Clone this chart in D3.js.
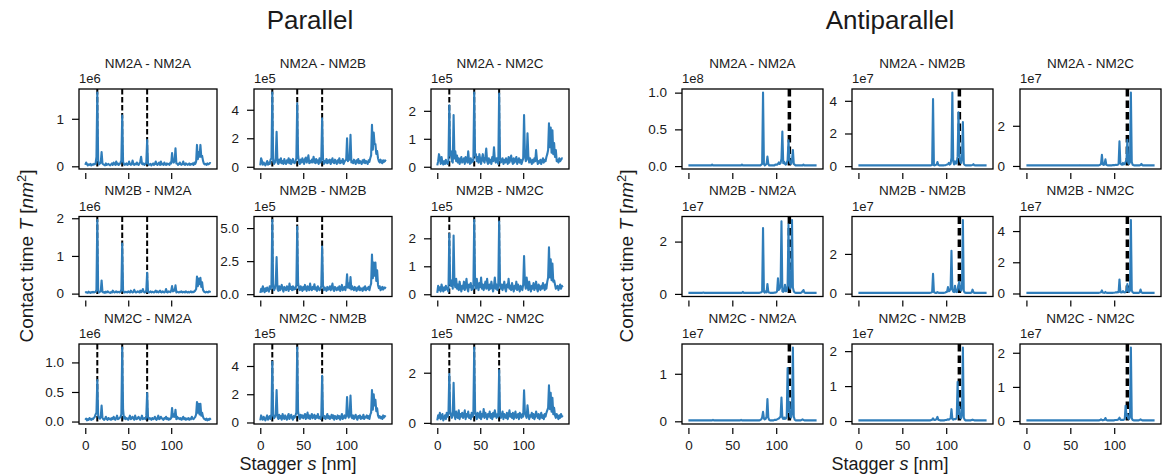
<!DOCTYPE html>
<html lang="en">
<head>
<meta charset="utf-8">
<title>Contact time vs stagger</title>
<script src="https://d3js.org/d3.v7.min.js"></script>
<style>
  body { margin: 0; background: #fff; }
  svg text { font-family: "Liberation Sans", Arial, sans-serif; fill: #1a1a1a; }
</style>
</head>
<body>
<div id="chart"></div>
<script>
// stagger grid, nm
var stagger = d3.range(0, 147);
var xTicks = [0, 50, 100];

var pairTitles = ["NM2A - NM2A", "NM2A - NM2B", "NM2A - NM2C",
                  "NM2B - NM2A", "NM2B - NM2B", "NM2B - NM2C",
                  "NM2C - NM2A", "NM2C - NM2B", "NM2C - NM2C"];

// parallel contact time, in hundredths of each panel's offset (1eN)
var parAA = [3,8,5,2,4,3,5,2,4,3, 5,4,6,20,155,12,4,6,8,30, 6,4,3,2,6,3,4,5,3,2, 4,6,3,8,5,3,10,4,6,3,
  5,8,12,107,10,4,3,5,6,3, 4,10,5,3,4,12,6,3,5,4, 8,4,3,6,10,20,5,4,6,3, 5,8,55,6,3,4,5,2,4,6,
  3,5,10,4,3,6,8,3,10,4, 5,3,8,4,3,6,4,5,3,8, 6,28,10,8,12,38,6,6,3,5, 8,4,3,5,10,4,3,6,5,3,
  4,6,3,5,4,6,3,8,5,10, 45,15,30,20,45,20,22,12,6,4, 5,3,6,4,5,7,6];
var parAB = [10,60,40,15,30,20,10,25,40,15, 30,20,50,60,520,40,20,30,60,245, 30,20,50,30,60,25,40,20,55,30, 20,45,30,60,25,50,20,35,55,30,
  25,40,60,445,85,30,20,50,30,60, 40,20,55,65,30,45,80,25,40,30, 50,30,70,40,25,55,30,45,20,60, 30,55,340,60,20,40,30,55,25,45,
  30,50,20,40,60,30,25,50,35,20, 45,30,60,25,40,30,55,20,35,45, 50,200,40,60,50,225,30,40,25,50, 35,20,45,30,55,25,40,30,20,45,
  30,50,25,40,30,20,45,35,60,80, 295,120,240,160,160,90,110,60,40,30, 50,30,25,45,35,40,50];
var parAC = [5,20,45,30,10,35,15,8,20,10, 25,15,10,20,220,40,55,20,15,185, 30,55,20,40,15,30,10,25,35,15, 20,30,10,35,25,15,55,20,10,30,
  15,25,20,265,40,45,20,35,15,45, 25,10,30,45,20,15,35,65,20,10, 30,15,25,10,35,20,70,25,15,30, 20,10,262,35,15,20,30,10,25,15,
  30,20,10,35,15,25,40,20,10,30, 15,25,35,10,20,30,15,25,10,20, 30,185,45,20,25,120,40,15,30,20, 10,25,15,30,20,60,25,10,20,15,
  25,10,20,30,15,25,20,35,45,60, 155,70,140,50,130,45,85,35,60,20, 25,15,30,20,25,30,30];
var parBA = [2,4,3,2,5,3,2,4,3,5, 3,4,5,10,195,8,3,5,6,35, 5,3,4,2,5,3,6,4,3,2, 4,3,8,5,3,4,6,3,5,4,
  3,6,10,133,8,4,3,5,4,3, 6,4,3,8,5,3,4,10,5,3, 4,6,5,3,8,4,6,12,5,3, 4,8,55,5,3,4,6,3,5,4,
  3,5,8,4,6,3,5,8,4,3, 6,4,3,5,12,4,3,6,5,4, 8,20,6,10,8,22,3,5,4,3, 5,4,6,3,4,5,3,6,4,3,
  5,3,4,6,3,5,4,6,8,12, 45,20,40,25,42,18,30,10,6,4, 3,5,4,3,6,5,4];
var parBB = [10,40,20,60,30,15,45,25,50,30, 20,60,40,70,560,50,30,45,80,280, 40,25,60,30,50,70,35,20,55,40, 30,60,45,25,80,40,55,30,60,35,
  50,40,70,510,90,40,30,60,45,25, 55,35,70,40,25,60,45,30,80,40, 30,55,40,75,35,50,25,60,40,30, 45,60,360,70,30,50,40,25,55,35,
  40,60,30,50,80,35,25,55,40,30, 50,35,60,25,45,70,30,40,55,30, 60,150,50,80,45,130,35,60,40,30, 55,40,25,50,35,60,30,45,40,25,
  50,35,60,30,45,40,55,30,60,80, 300,120,240,140,240,100,180,70,45,60, 30,40,55,35,50,45,55];
var parBC = [5,30,15,25,10,35,20,10,25,15, 30,20,15,10,215,45,30,50,20,210, 40,25,55,20,35,15,45,25,10,30, 20,45,15,30,55,20,10,35,25,40,
  15,30,20,265,45,20,55,30,15,40, 25,60,20,35,15,30,45,20,55,25, 15,35,20,45,25,10,30,60,20,35, 15,25,260,40,20,35,15,30,45,20,
  10,35,25,55,20,30,15,40,25,10, 30,20,45,15,35,25,10,30,20,15, 35,137,40,20,60,30,15,45,25,10, 30,20,40,15,25,45,20,10,35,25,
  15,30,20,40,25,15,35,20,45,60, 168,60,125,50,110,45,50,35,20,25, 30,15,25,35,20,30,25];
var parCA = [3,5,2,4,3,6,4,3,5,4, 6,8,12,15,70,10,6,5,8,27, 6,4,3,5,8,4,3,6,4,5, 3,6,4,8,5,3,6,10,4,5,
  6,8,12,125,20,5,8,4,6,5, 3,6,10,4,5,8,6,3,10,5, 4,6,8,5,3,6,10,4,5,6, 4,10,48,8,4,6,5,3,6,4,
  5,8,4,3,6,10,4,5,8,6, 4,3,6,5,8,4,6,3,5,4, 6,23,8,12,8,20,4,8,5,6, 4,6,3,5,8,4,6,3,5,4,
  6,3,5,4,8,5,4,6,8,12, 33,15,30,12,30,10,15,8,5,4, 3,5,2,4,3,5,3];
var parCB = [15,50,30,20,40,25,15,35,50,20, 30,45,25,60,430,50,30,40,60,230, 40,25,55,30,45,20,60,35,25,50, 30,20,45,60,25,40,55,30,20,45,
  35,50,70,530,80,40,25,55,35,50, 30,45,60,25,40,70,30,50,25,45, 60,30,40,55,25,45,35,60,30,40, 25,50,330,55,30,45,25,40,60,30,
  45,25,35,55,30,50,20,45,35,25, 50,30,45,20,40,60,25,35,50,30, 45,180,50,35,55,190,40,30,50,25, 40,55,30,20,45,35,50,25,40,30,
  55,25,40,35,50,30,45,25,55,70, 230,90,200,120,160,80,100,50,35,45, 30,40,25,50,35,45,40];
var parCC = [10,30,20,40,15,25,35,10,20,30, 15,40,25,35,195,45,30,20,35,160, 30,15,45,25,20,50,15,35,25,40, 20,30,50,15,35,25,45,20,30,15,
  40,25,35,300,50,25,15,40,30,20, 45,15,35,25,55,20,40,30,15,35, 25,45,20,35,15,40,25,50,30,20, 35,25,210,40,20,30,45,15,35,25,
  20,40,15,30,50,25,35,20,40,15, 30,45,20,25,35,15,40,30,20,35, 25,130,40,30,20,70,35,15,30,25, 40,20,35,15,25,45,30,20,35,15,
  25,40,20,30,15,35,25,40,50,60, 150,55,120,45,100,35,60,30,20,35, 25,15,30,20,35,25,30];

// antiparallel contact time, same units
var antiAA = [1,1,1,1,1,1,1,1,1,1, 1,1,1,1,1,1,1,1,1,1, 1,1,1,1,1,1,1,2,1,1, 1,1,1,1,1,1,1,1,1,1,
  1,1,1,1,1,1,1,1,1,1, 1,1,1,1,1,1,1,1,1,1, 1,2,1,1,1,1,1,1,1,1, 1,1,1,1,1,1,1,1,1,1,
  1,1,1,2,3,100,3,1,2,3, 13,3,1,1,1,1,1,1,1,2, 2,2,3,5,3,4,10,47,4,6, 3,2,4,8,35,10,4,3,8,22,
  3,2,1,1,1,1,1,1,1,1, 1,2,1,1,1,1,1,1,1,1, 1,1,1,1,1,1,1];
var antiAB = [5,5,5,5,5,5,5,5,5,5, 5,5,5,5,5,5,5,5,5,5, 5,5,5,5,5,5,5,6,5,5, 5,5,5,5,5,5,5,5,5,5,
  5,5,5,5,5,5,5,5,5,5, 5,5,5,5,5,5,5,5,5,5, 5,6,5,5,5,5,5,5,5,5, 5,5,5,5,5,5,5,5,5,5,
  5,5,5,6,8,410,6,5,8,10, 25,8,5,5,5,5,5,5,6,6, 8,10,12,20,10,15,50,450,30,10, 30,15,20,60,330,80,30,20,50,270,
  15,8,5,5,5,5,5,5,5,6, 8,12,6,5,5,5,5,5,5,5, 5,5,5,5,5,5,5];
var antiAC = [3,3,3,3,3,3,3,3,3,3, 3,3,3,3,3,3,3,3,3,3, 3,3,3,3,3,3,3,3,3,3, 3,3,3,3,3,3,3,3,3,3,
  3,3,3,3,3,3,3,3,3,3, 3,3,3,3,3,3,3,3,3,3, 3,4,3,3,3,3,3,3,3,3, 3,3,3,3,3,3,3,3,3,3,
  3,3,3,4,6,10,55,8,5,10, 33,6,4,3,3,3,3,3,4,4, 4,5,6,5,6,10,123,15,8,6, 15,8,10,20,30,130,15,10,20,365,
  20,6,4,3,3,3,3,3,3,3, 5,10,4,3,3,3,3,3,3,3, 3,3,3,3,3,3,3];
var antiBA = [4,4,4,4,4,4,4,4,4,4, 4,4,4,4,4,4,4,5,4,4, 4,4,4,4,4,4,4,4,4,4, 4,4,4,4,4,4,4,4,4,4,
  4,4,4,4,4,4,4,4,4,4, 4,4,4,4,4,4,4,4,4,4, 4,4,8,4,4,4,4,4,4,4, 4,4,4,4,4,4,4,4,4,4,
  4,4,5,6,10,252,8,5,10,6, 38,8,5,4,4,4,4,4,5,5, 6,10,60,15,20,30,278,10,8,12, 35,10,12,30,265,40,20,30,282,25,
  10,6,4,4,4,4,4,4,4,6, 10,15,6,4,4,4,4,4,4,4, 4,4,4,4,4,4,4];
var antiBB = [4,4,4,4,4,4,4,4,4,4, 4,4,4,4,4,4,4,4,4,4, 4,4,4,4,4,4,4,4,4,4, 4,4,4,4,4,4,4,4,4,4,
  4,4,4,4,4,4,4,4,4,4, 4,4,4,4,4,4,4,4,4,4, 4,4,4,4,4,4,4,4,4,4, 4,4,4,4,4,4,4,4,4,4,
  4,4,5,6,8,100,8,5,4,4, 8,5,4,4,4,4,4,4,5,6, 8,10,33,12,15,25,216,20,10,8, 40,10,8,20,45,60,20,15,30,370,
  15,6,4,4,4,4,4,4,4,6, 20,8,4,4,4,4,4,4,4,4, 4,4,4,4,4,4,4];
var antiBC = [4,4,4,4,4,4,4,4,4,4, 4,4,4,4,4,4,4,4,4,4, 4,4,4,4,4,4,4,4,4,4, 4,4,4,4,4,4,4,4,4,4,
  4,4,4,4,4,4,4,4,4,4, 4,4,4,4,4,4,4,4,4,4, 4,4,4,4,4,4,4,4,4,4, 4,4,4,4,4,4,4,4,4,4,
  4,4,4,5,6,8,20,6,5,4, 10,5,4,4,4,4,4,4,4,5, 5,6,8,6,10,8,90,10,6,8, 15,8,6,10,20,60,15,10,20,470,
  20,8,4,4,4,4,4,4,4,6, 25,8,4,4,4,4,4,4,4,4, 4,4,4,4,4,4,4];
var antiCA = [2,2,2,2,2,2,2,2,2,2, 2,2,2,2,2,2,2,2,2,2, 2,2,2,2,2,2,2,2,3,2, 2,2,2,2,2,2,2,2,2,2,
  2,2,2,2,2,2,2,2,2,2, 2,2,2,2,2,2,2,2,2,2, 3,2,2,2,2,2,2,2,2,2, 2,2,2,2,2,2,2,2,2,2,
  2,2,3,4,8,20,6,4,5,10, 47,8,3,2,2,2,2,2,3,3, 3,4,5,6,8,10,50,8,5,8, 5,6,10,112,20,40,10,8,20,155,
  10,4,2,2,2,2,2,2,2,3, 4,3,2,2,2,2,2,2,2,2, 2,2,2,2,2,2,2];
var antiCB = [2,2,2,2,2,2,2,2,2,2, 2,2,2,2,2,2,2,2,2,2, 2,2,2,2,2,2,2,2,2,2, 2,2,2,2,2,2,2,2,2,2,
  2,2,2,2,2,2,2,2,2,2, 2,2,2,2,2,2,2,2,2,2, 2,2,2,2,2,2,2,2,2,2, 2,2,2,2,2,2,2,2,2,2,
  2,2,2,3,4,8,4,3,4,6, 12,4,3,2,2,2,2,2,2,3, 3,4,5,4,6,8,34,6,4,6, 5,6,10,112,20,40,10,8,20,210,
  10,4,2,2,2,2,2,2,2,3, 4,3,2,2,2,2,2,2,2,2, 2,2,2,2,2,2,2];
var antiCC = [2,2,2,2,2,2,2,2,2,2, 2,2,2,2,2,2,2,2,2,2, 2,2,2,2,2,2,2,2,2,2, 2,2,2,2,2,2,2,2,2,2,
  2,2,2,2,2,2,2,2,2,2, 2,2,2,2,2,2,2,2,2,2, 2,2,2,2,2,2,2,2,2,2, 2,2,2,2,2,2,2,2,2,2,
  2,2,2,2,3,5,3,2,3,4, 9,3,2,2,2,2,2,2,2,2, 2,3,3,3,4,5,10,4,3,4, 3,4,6,45,15,20,8,6,15,215,
  8,3,2,2,2,2,2,2,2,3, 5,3,2,2,2,2,2,2,2,2, 2,2,2,2,2,2,2];

var parSeries = [parAA, parAB, parAC, parBA, parBB, parBC, parCA, parCB, parCC];
var parExp = [6, 5, 5, 6, 5, 5, 6, 5, 5];
var parTicks = [[0, 1], [0, 2, 4], [0, 1, 2], [0, 1, 2], [0, 2.5, 5], [0, 1, 2], [0, 0.5, 1], [0, 2, 4], [0, 2]];
var parDecimals = [0, 0, 0, 0, 1, 0, 1, 0, 0];
var parMarks = [14, 43, 72];

var antiSeries = [antiAA, antiAB, antiAC, antiBA, antiBB, antiBC, antiCA, antiCB, antiCC];
var antiExp = [8, 7, 7, 7, 7, 7, 7, 7, 7];
var antiTicks = [[0, 0.5, 1], [0, 2, 4], [0, 2], [0, 2], [0, 2], [0, 2, 4], [0, 1], [0, 1, 2], [0, 1, 2]];
var antiDecimals = [1, 0, 0, 0, 0, 0, 0, 0, 0];
var antiMarks = [115];

var lineColor = "#2f7dba";
var rowTop = [89, 216.5, 344];
var panelH = 80;

var svgContainer = d3.select('#chart')
  .append('svg')
  .attr('width', 1165)
  .attr('height', 476);

// one small subplot
var drawPanel = function(left, top, w, values, exp, ticks, decimals, marks, markStyle, title, showX) {
  var h = panelH;
  var g = svgContainer.append('g').attr('transform', 'translate(' + left + ',' + top + ')');
  var pts = stagger.map((s, i) => ({s: s, v: values[i] / 100}));

  // matplotlib-like 5% margins
  var xExt = d3.extent(stagger);
  var xPad = 0.05 * (xExt[1] - xExt[0]);
  var xScale = d3.scaleLinear().domain([xExt[0] - xPad, xExt[1] + xPad]).range([0, w]);
  var yExt = d3.extent(pts, d => d.v);
  var yPad = 0.05 * (yExt[1] - yExt[0]);
  var yScale = d3.scaleLinear().domain([yExt[0] - yPad, yExt[1] + yPad]).range([h, 0]);

  g.selectAll('.mark')
    .data(marks)
    .enter()
    .append('line')
      .attr('x1', d => xScale(d))
      .attr('x2', d => xScale(d))
      .attr('y1', 0)
      .attr('y2', h)
      .attr('stroke', '#000')
      .attr('stroke-width', markStyle.width)
      .attr('stroke-dasharray', markStyle.dash);

  g.append('path')
    .datum(pts)
    .attr('d', d3.line().x(d => xScale(d.s)).y(d => yScale(d.v)))
    .attr('fill', 'none')
    .attr('stroke', lineColor)
    .attr('stroke-width', 2.1)
    .attr('stroke-linejoin', 'round');

  g.append('rect')
    .attr('width', w)
    .attr('height', h)
    .attr('fill', 'none')
    .attr('stroke', '#000')
    .attr('stroke-width', 1.3);

  var yAxis = d3.axisLeft(yScale)
    .tickValues(ticks)
    .tickSize(7)
    .tickPadding(8)
    .tickFormat(d3.format('.' + decimals + 'f'));
  var ya = g.append('g').call(yAxis).attr('font-size', 13.5);
  ya.select('.domain').remove();
  ya.selectAll('.tick line').attr('stroke-width', 1.2);

  var xAxis = d3.axisBottom(xScale)
    .tickValues(xTicks)
    .tickSize(6)
    .tickPadding(6)
    .tickFormat(showX ? d3.format('d') : '');
  var xa = g.append('g')
    .attr('transform', 'translate(0,' + (h + 4) + ')')
    .call(xAxis)
    .attr('font-size', 13.5);
  xa.select('.domain').remove();
  xa.selectAll('.tick line').attr('stroke-width', 1.2);

  g.append('text')
    .attr('x', 0)
    .attr('y', -6)
    .style('font-size', '13px')
    .text('1e' + exp);

  g.append('text')
    .attr('x', w / 2)
    .attr('y', -21.5)
    .attr('text-anchor', 'middle')
    .style('font-size', '13.5px')
    .text(title);
}

var drawGroup = function(lefts, w, series, exps, tickSets, decimals, marks, markStyle) {
  series.forEach(function(vals, i) {
    var r = Math.floor(i / 3), c = i % 3;
    drawPanel(lefts[c], rowTop[r], w, vals, exps[i], tickSets[i], decimals[i], marks, markStyle, pairTitles[i], r == 2);
  });
}

drawGroup([79, 254, 431], 138, parSeries, parExp, parTicks, parDecimals, parMarks, {width: 2, dash: '5.5,2.5'});
drawGroup([682, 852, 1020], 141, antiSeries, antiExp, antiTicks, antiDecimals, antiMarks, {width: 3.5, dash: '7.5,4'});

// titles and axis labels
var makeLabels = function(cx, tx, title, ylabX) {
  svgContainer.append('text')
    .attr('x', tx)
    .attr('y', 29)
    .attr('text-anchor', 'middle')
    .style('font-size', '26px')
    .text(title);

  var xl = svgContainer.append('text')
    .attr('x', cx)
    .attr('y', 470)
    .attr('text-anchor', 'middle')
    .style('font-size', '18px');
  xl.append('tspan').text('Stagger ');
  xl.append('tspan').style('font-style', 'italic').text('s');
  xl.append('tspan').text(' [nm]');

  var yl = svgContainer.append('text')
    .attr('transform', 'translate(' + ylabX + ',256)rotate(-90)')
    .attr('text-anchor', 'middle')
    .style('font-size', '19px');
  yl.append('tspan').text('Contact time ');
  yl.append('tspan').style('font-style', 'italic').text('T');
  yl.append('tspan').text(' [');
  yl.append('tspan').style('font-style', 'italic').text('nm');
  yl.append('tspan').attr('dy', -7).style('font-size', '13px').text('2');
  yl.append('tspan').attr('dy', 7).text(']');
}

makeLabels(298, 310, 'Parallel', 33);
makeLabels(890, 890, 'Antiparallel', 633);
</script>
</body>
</html>
